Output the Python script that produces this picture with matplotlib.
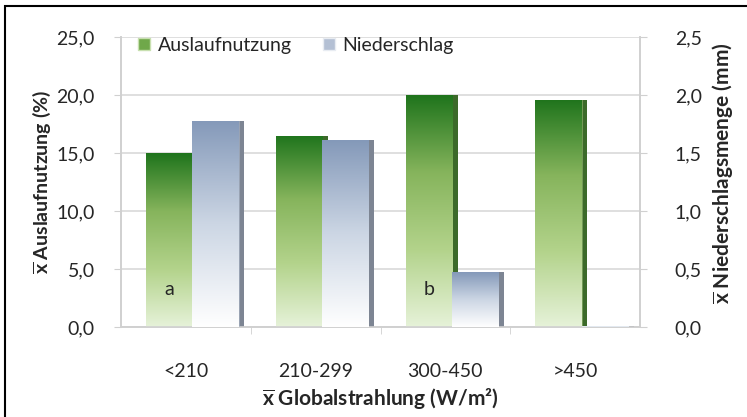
import numpy as np
import matplotlib.pyplot as plt
from matplotlib.patches import Rectangle, Patch
from matplotlib.colors import LinearSegmentedColormap

plt.rcParams['font.family'] = ['Lato', 'DejaVu Sans']
plt.rcParams['mathtext.fontset'] = 'custom'
plt.rcParams['mathtext.bf'] = 'Lato:bold'
plt.rcParams['mathtext.rm'] = 'Lato'

# data
categories = ['<210', '210-299', '300-450', '>450']
auslauf = [15.0, 16.5, 20.0, 19.6]          # %
niederschlag = [1.78, 1.61, 0.47, 0.01]     # mm
letters = ['a', '', 'b', '']

green_cmap = LinearSegmentedColormap.from_list('g', ['#e6f2d9', '#b3d38b', '#86b45c', '#1f741c'])
blue_cmap = LinearSegmentedColormap.from_list('b', ['#ffffff', '#ccd6e4', '#8499b9'])


def gradient_bar(ax, bar, cmap):
    x0, y0 = bar.get_x(), bar.get_y()
    w, h = bar.get_width(), bar.get_height()
    if h <= 0:
        return
    grad = np.linspace(0, 1, 256).reshape(-1, 1)
    im = ax.imshow(grad, cmap=cmap, origin='lower', aspect='auto',
                   extent=[x0, x0 + w, y0, y0 + h], zorder=bar.get_zorder())
    im.set_clip_path(bar)


fig = plt.figure(figsize=(7.47, 4.17), dpi=100)
ax = fig.add_axes([121 / 747, 1 - 327 / 417, 519 / 747, 290 / 417])
ax2 = ax.twinx()

x = np.arange(len(categories))
w = 0.356
side = 0.045
fs = 14
txt = '#262626'

ax.set_xlim(-0.5, 3.5)
ax.set_ylim(0, 25)
ax2.set_ylim(0, 2.5)

# green side strips (depth)
ax.bar(x - 0.306 + w, auslauf, width=side, align='edge', color='#3c6a2a', zorder=2)
gbars = ax.bar(x - 0.306, auslauf, width=w, align='edge', color='none',
               edgecolor='#9fbf7c', linewidth=0.4, zorder=3)
for b in gbars:
    gradient_bar(ax, b, green_cmap)

# blue bars on second axis
ax2.bar(x + 0.05 + w, niederschlag, width=side, align='edge', color='#7d8593', zorder=2)
bbars = ax2.bar(x + 0.05, niederschlag, width=w, align='edge', color='none',
                edgecolor='#b0bccd', linewidth=0.4, zorder=3)
for b in bbars:
    gradient_bar(ax2, b, blue_cmap)

for i, t in enumerate(letters):
    if t:
        ax.text(x[i] - 0.306 + w / 2, 3.2, t, ha='center', va='center',
                fontsize=fs, color=txt, zorder=5)

# grid and axes styling
ax.set_yticks(np.arange(0, 26, 5))
ax.set_yticklabels([f'{v:.1f}'.replace('.', ',') for v in np.arange(0, 26, 5)])
ax2.set_yticks(np.arange(0, 2.6, 0.5))
ax2.set_yticklabels([f'{v:.1f}'.replace('.', ',') for v in np.arange(0, 2.6, 0.5)])
ax.yaxis.grid(True, color='#d9d9d9', linewidth=1.2)
ax.set_axisbelow(True)

ax.set_xticks(x)
ax.set_xticklabels(categories)
ax.set_xticks(np.arange(0.5, 3, 1), minor=True)
ax.tick_params(axis='x', which='major', length=0, pad=26, labelsize=fs, colors=txt)
ax.tick_params(axis='x', which='minor', length=5, color='#d0d0d0')
ax.tick_params(axis='y', length=5, color='#d0d0d0', labelsize=fs, labelcolor=txt, pad=14)
ax2.tick_params(axis='y', length=5, color='#d0d0d0', labelsize=fs, labelcolor=txt, pad=20)

for a in (ax, ax2):
    a.spines['top'].set_visible(False)
    for s in ('left', 'right', 'bottom'):
        a.spines[s].set_color('#d0d0d0')
        a.spines[s].set_linewidth(1.2)

ax.set_ylabel(r'$\mathbf{\overline{x}}$ Auslaufnutzung (%)', fontsize=fs,
              fontweight='bold', color=txt, labelpad=2)
ax2.set_ylabel(r'$\mathbf{\overline{x}}$ Niederschlagsmenge (mm)', fontsize=fs + 1,
               fontweight='bold', color=txt)
ax2.yaxis.set_label_coords(1.135, 0.53)
ax.set_xlabel(r'$\mathbf{\overline{x}}$ Globalstrahlung (W/m²)', fontsize=fs + 1,
              fontweight='bold', color=txt, labelpad=4)

handles = [Patch(facecolor='#6fa84a', edgecolor='#c8e0b0'),
           Patch(facecolor='#b4c0d4', edgecolor='#e8ecf2')]
ax2.legend(handles, ['Auslaufnutzung', 'Niederschlag'], loc='upper left',
           bbox_to_anchor=(0.0, 1.06), ncol=2, frameon=False, fontsize=fs,
           handlelength=0.6, handleheight=0.6, handletextpad=0.4, columnspacing=1.6,
           labelcolor=txt)

fig.patches.append(Rectangle((5 / 747, -0.1), 1.2, 1.1 - 6 / 417,
                             transform=fig.transFigure, fill=False,
                             edgecolor='black', linewidth=1.5))

fig.savefig('out.png', dpi=100)
